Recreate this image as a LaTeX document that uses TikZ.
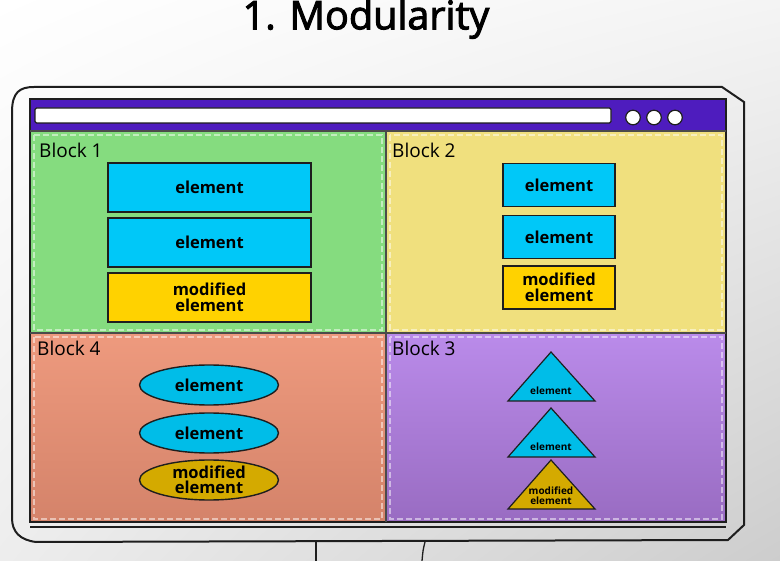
\documentclass[tikz,border=0pt]{standalone}
\usepackage{fontspec}
\setmainfont{Open Sans}
\usetikzlibrary{shapes.geometric,shadings}
\definecolor{cyanel}{HTML}{00C8F8}
\definecolor{cyanov}{HTML}{00BDE8}
\definecolor{goldel}{HTML}{FFD200}
\definecolor{goldov}{HTML}{D4AA00}
\definecolor{greenbl}{HTML}{85DC7F}
\definecolor{yellowbl}{HTML}{F0E07E}
\definecolor{salmontop}{HTML}{EE9A7E}
\definecolor{salmonbot}{HTML}{D4836A}
\definecolor{purpletop}{HTML}{BA8BEA}
\definecolor{purplebot}{HTML}{996CC2}
\definecolor{barpurple}{HTML}{4E1CBE}
\definecolor{ink}{HTML}{1E1E1E}
\definecolor{bglr}{HTML}{CDCDCD}
\definecolor{bgll}{HTML}{EDEDED}
\definecolor{bgur}{HTML}{F4F4F4}
\newfontfamily\titlefont[FakeBold=2.5]{Open Sans}
\tikzset{
  elbox/.style={draw=ink, line width=1.4pt, minimum width=203pt, minimum height=49pt, inner sep=0pt, align=center, font=\fontsize{16.5}{16}\selectfont\bfseries},
  smallbox/.style={elbox, minimum width=112pt, minimum height=43pt},
  elell/.style={ellipse, draw=ink, line width=1.4pt, minimum width=139pt, minimum height=40pt, inner sep=0pt, align=center, font=\fontsize{16.5}{15}\selectfont\bfseries},
  tri/.style={draw=ink, line width=1.2pt, line join=miter},
  trilabel/.style={inner sep=0pt, align=center, font=\fontsize{10}{10}\selectfont\bfseries},
  blocklabel/.style={anchor=west, inner sep=0pt, font=\fontsize{19}{19}\selectfont},
  roughedge/.style={draw=white, line width=1.2pt, dash pattern=on 6pt off 3pt, opacity=0.5},
}
\begin{document}
\begin{tikzpicture}[x=1pt,y=-1pt]
\useasboundingbox (0,0) rectangle (780,561);
% background
\shade[upper left=white, upper right=bgur, lower left=bgll, lower right=bglr] (0,0) rectangle (780,561);
% title
\node[inner sep=0pt, font=\titlefont\fontsize{39.5}{39}\selectfont] (title) at (366,19) {1. Modularity};
% monitor stand
\coordinate (sl1) at (316,542); \coordinate (sl2) at (316,561);
\coordinate (sr1) at (425,542); \coordinate (sr2) at (422,561);
\draw[ink, line width=1.3pt] (sl1) -- (sl2);
\draw[ink, line width=1.3pt] (sr1) .. controls (423,550) .. (sr2);
% monitor outer frame
\draw[ink, line width=2pt] (12,112) .. controls (12,92) and (20,87) .. (34,87) -- (722,87) -- (744,102) -- (744,525) -- (728,540) -- (36,542) .. controls (20,540) and (12,532) .. (12,518) -- cycle;
% screen
\fill[barpurple] (30,99) rectangle (726,131);
\fill[greenbl] (31,131) rectangle (386,333);
\fill[yellowbl] (386,131) rectangle (725,333);
\shade[top color=salmontop, bottom color=salmonbot] (31,333) rectangle (386,522);
\shade[top color=purpletop, bottom color=purplebot] (386,333) rectangle (725,522);
\draw[roughedge] (34,135) rectangle (382,330);
\draw[roughedge] (390,135) rectangle (722,330);
\draw[roughedge] (34,337) rectangle (382,519);
\draw[roughedge] (390,337) rectangle (722,519);
% address bar and buttons
\draw[ink, line width=1.2pt, fill=white, rounded corners=1.5pt] (35,108) rectangle (611,123);
\foreach \cx in {633,654,675}{
  \draw[ink, line width=1.2pt, fill=white] (\cx,117.5) circle (7.3pt);
}
% frame lines
\draw[ink, line width=2.2pt] (30,99) rectangle (726,522);
\draw[ink!80, line width=2pt] (30,131) -- (726,131);
\draw[ink!80, line width=2pt] (30,333) -- (726,333);
\draw[ink!80, line width=2pt] (386,131) -- (386,522);
\draw[ink, line width=1.6pt] (30,527) -- (726,527);
% block labels
\node[blocklabel] (lb1) at (39,150) {Block 1};
\node[blocklabel] (lb2) at (392,150) {Block 2};
\node[blocklabel] (lb4) at (37,348) {Block 4};
\node[blocklabel] (lb3) at (392,348) {Block 3};
% block 1
\node[elbox, fill=cyanel] (a1) at (209.5,187.5) {element};
\node[elbox, fill=cyanel] (a2) at (209.5,242.5) {element};
\node[elbox, fill=goldel] (a3) at (209.5,297.5) {modified\\element};
% block 2
\node[smallbox, fill=cyanel] (b1) at (559,185) {element};
\node[smallbox, fill=cyanel] (b2) at (559,237) {element};
\node[smallbox, fill=goldel] (b3) at (559,287.5) {modified\\element};
% block 4
\node[elell, fill=cyanov] (c1) at (209,385) {element};
\node[elell, fill=cyanov] (c2) at (209,433) {element};
\node[elell, fill=goldov] (c3) at (209,480) {modified\\element};
% block 3
\draw[tri, fill=cyanov] (551,352) -- (595,401) -- (508,401) -- cycle;
\draw[tri, fill=cyanov] (551,408) -- (595,457) -- (508,457) -- cycle;
\draw[tri, fill=goldov] (551,460) -- (595,509) -- (508,509) -- cycle;
\node[trilabel] (d1) at (551,391) {element};
\node[trilabel] (d2) at (551,447) {element};
\node[trilabel] (d3) at (551,496) {modified\\element};
\end{tikzpicture}
\end{document}
